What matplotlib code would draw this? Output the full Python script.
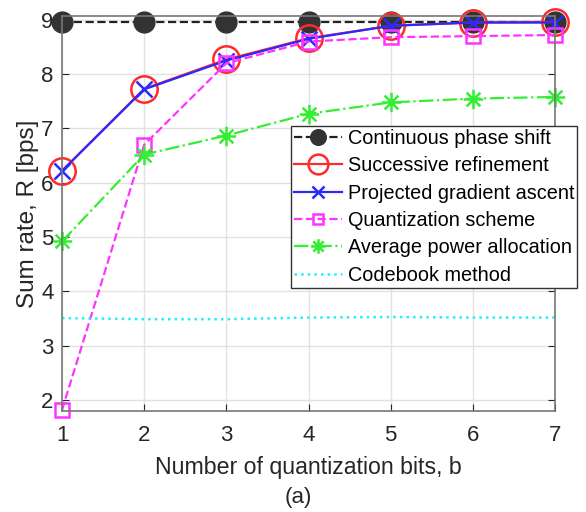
import numpy as np
import matplotlib.pyplot as plt
from matplotlib.path import Path

plt.rcParams['font.family'] = ['Liberation Sans', 'DejaVu Sans']

bits = [1, 2, 3, 4, 5, 6, 7]
continuous = [8.96, 8.96, 8.96, 8.96, 8.96, 8.96, 8.96]
successive = [6.22, 7.73, 8.27, 8.66, 8.89, 8.95, 8.96]
projected = [6.22, 7.72, 8.25, 8.65, 8.89, 8.95, 8.95]
quantization = [1.82, 6.70, 8.20, 8.60, 8.68, 8.70, 8.72]
average = [4.92, 6.52, 6.87, 7.27, 7.48, 7.55, 7.58]
codebook = [3.51, 3.49, 3.49, 3.52, 3.53, 3.52, 3.52]
labels = ['Continuous phase shift', 'Successive refinement',
          'Projected gradient ascent', 'Quantization scheme',
          'Average power allocation', 'Codebook method']

# MATLAB-style asterisk: a plus and a cross drawn together
ast = Path([(-1, 0), (1, 0), (0, -1), (0, 1),
            (-0.707, -0.707), (0.707, 0.707), (-0.707, 0.707), (0.707, -0.707)],
           [Path.MOVETO, Path.LINETO] * 4)

fig = plt.figure(figsize=(5.86, 5.12), dpi=100)
ax = fig.add_axes([62 / 586, 1 - 411 / 512, 493 / 586, 395 / 512])

ax.plot(bits, continuous, '--', color='#222222', lw=1.6, marker='o',
        ms=15, mfc='#333333', mec='#333333', label=labels[0], clip_on=False)
ax.plot(bits, successive, '-', color='#ff2a2a', lw=1.6, marker='o',
        ms=19, mfc='none', mew=1.8, label=labels[1], clip_on=False)
ax.plot(bits, projected, '-', color='#2a2aff', lw=1.6, marker='x',
        ms=12, mew=1.8, label=labels[2], clip_on=False)
ax.plot(bits, quantization, '--', color='#ff33ff', lw=1.6, marker='s',
        ms=10.5, mfc='none', mew=1.8, label=labels[3], clip_on=False)
ax.plot(bits, average, '-.', color='#33ee33', lw=1.6, marker=ast,
        ms=14, mew=1.8, label=labels[4], clip_on=False)
ax.plot(bits, codebook, ':', color='#22eeff', lw=1.8, label=labels[5])

ax.set_xlim(1, 7)
ax.set_ylim(1.8, 9.07)
ax.set_xticks(bits)
ax.set_yticks([2, 3, 4, 5, 6, 7, 8, 9])
ax.grid(True, color='#e2e2e2', lw=1)
ax.set_axisbelow(True)
ax.tick_params(direction='in', top=True, right=True, labelsize=16,
               colors='#262626', length=5)
ax.tick_params(axis='x', pad=10)
ax.tick_params(axis='y', pad=6)
for s in ax.spines.values():
    s.set_color('#777777')
    s.set_linewidth(1.2)

ax.set_xlabel('Number of quantization bits, b', fontsize=16.7,
              color='#262626', labelpad=7)
ax.set_ylabel('Sum rate, R [bps]', fontsize=17.5, color='#262626',
              labelpad=2)
fig.text(298 / 586, 1 - 498 / 512, '(a)', fontsize=16,
         color='#262626', ha='center', va='center')

leg = ax.legend(loc='upper right', bbox_to_anchor=(577 / 586, 1 - 126 / 512),
                bbox_transform=fig.transFigure, fontsize=14.3, frameon=True,
                fancybox=False, handlelength=2.4, handletextpad=0.3,
                borderpad=0.15, labelspacing=0.42, borderaxespad=0,
                markerscale=0.75)
leg.get_frame().set_edgecolor('#333333')
leg.get_frame().set_linewidth(1)
leg.get_frame().set_alpha(1)
leg.set_zorder(5)

fig.savefig('out.png', dpi=100)
